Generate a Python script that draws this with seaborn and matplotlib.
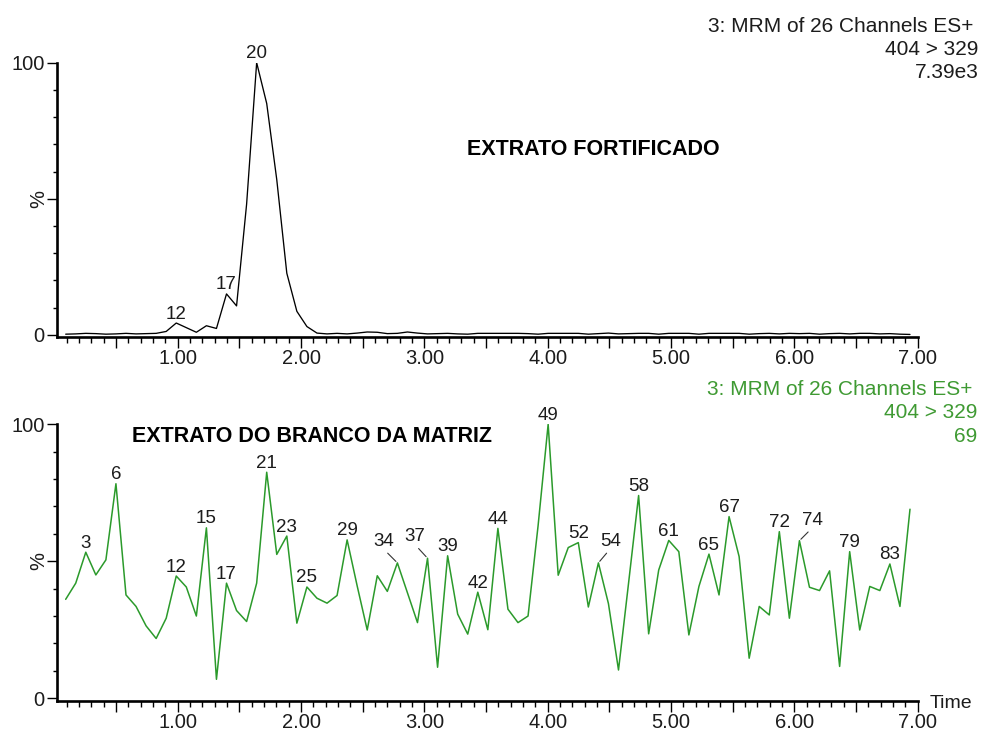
import numpy as np
import pandas as pd
import matplotlib
matplotlib.use("Agg")
import matplotlib.pyplot as plt
from matplotlib.ticker import FixedLocator, MultipleLocator, FuncFormatter
import seaborn as sns

# ---- acquisition: MRM channel 404 > 329, one point per scan ----
scans = np.arange(1, 86)
SCAN_T0 = 0.01      # min
SCAN_DT = 0.0815    # min per scan
retention_min = SCAN_T0 + SCAN_DT * scans

# fortified extract, % of max (7.39e3)
fortified_pct = [
    0.2, 0.3, 0.5, 0.4, 0.2, 0.3, 0.5, 0.3, 0.4, 0.5,
    1.2, 4.3, 2.6, 0.9, 3.3, 2.3, 15.0, 10.6, 48.0, 100.0,
    85.0, 57.0, 22.6, 8.6, 3.0, 0.6, 0.3, 0.5, 0.3, 0.6,
    1.0, 0.9, 0.4, 0.5, 1.0, 0.6, 0.3, 0.4, 0.5, 0.3,
    0.2, 0.5, 0.5, 0.5, 0.5, 0.5, 0.4, 0.2, 0.5, 0.5,
    0.5, 0.5, 0.2, 0.4, 0.6, 0.3, 0.4, 0.5, 0.5, 0.2,
    0.5, 0.5, 0.5, 0.2, 0.5, 0.5, 0.5, 0.5, 0.2, 0.4,
    0.5, 0.3, 0.5, 0.4, 0.5, 0.2, 0.4, 0.5, 0.3, 0.5,
    0.5, 0.3, 0.4, 0.2, 0.1,
]

# matrix blank extract, % of max (69)
blank_pct = [
    36.1, 42.0, 53.3, 45.0, 50.5, 78.3, 37.7, 33.5, 26.4, 21.8,
    29.2, 44.6, 40.6, 30.0, 62.2, 6.9, 42.0, 32.0, 28.0, 42.0,
    82.5, 52.5, 59.2, 27.4, 40.6, 36.5, 34.7, 37.5, 57.8, 41.0,
    24.9, 44.7, 39.0, 49.4, 38.5, 27.6, 51.1, 11.3, 52.0, 30.7,
    23.4, 38.7, 25.0, 62.0, 32.5, 27.6, 30.0, 63.0, 100.0, 44.9,
    55.0, 56.8, 33.3, 49.4, 34.5, 10.3, 42.0, 74.0, 23.5, 46.8,
    57.6, 53.5, 23.1, 40.8, 52.6, 37.7, 66.3, 51.7, 14.6, 33.5,
    30.4, 60.8, 29.2, 57.5, 40.5, 39.3, 46.5, 11.6, 53.5, 24.9,
    40.8, 39.3, 49.0, 33.5, 69.0,
]

fortified_peaks = [12, 17, 20]
blank_peaks = [3, 6, 12, 15, 17, 21, 23, 25, 29, 34, 37, 39, 42, 44, 49,
               52, 54, 58, 61, 65, 67, 72, 74, 79, 83]
# labels moved aside with a leader line: (dx, dy) in pixels
leader_offsets = {34: (-14, 17), 37: (-13, 17), 54: (12, 17), 74: (13, 16)}

header_lines = ["3: MRM of 26 Channels ES+", "404 > 329"]
fortified_scale = "7.39e3"
blank_scale = "69"

INK = "#1c1c1c"
GREEN = "#2b9a2b"
GREEN_TEXT = "#3f9a33"

sns.set_theme(style="ticks")
plt.rcParams["font.family"] = ["Liberation Sans", "DejaVu Sans"]
plt.rcParams["axes.edgecolor"] = "black"

W, H = 981, 731
fig = plt.figure(figsize=(W / 100, H / 100), dpi=100)


def fx(px):
    return px / W


def fy(py):
    return 1 - py / H


ax_top = fig.add_axes([fx(57.3), fy(337.3), fx(917.7) - fx(57.3), fy(62.7) - fy(337.3)])
ax_bot = fig.add_axes([fx(57.3), fy(700.8), fx(917.7) - fx(57.3), fy(424.3) - fy(700.8)])

df_top = pd.DataFrame({"time": retention_min, "pct": fortified_pct})
df_bot = pd.DataFrame({"time": retention_min, "pct": blank_pct})

sns.lineplot(data=df_top, x="time", y="pct", ax=ax_top, color="black", linewidth=0.95)
sns.lineplot(data=df_bot, x="time", y="pct", ax=ax_bot, color=GREEN, linewidth=1.1)


def style_axis(ax):
    ax.set_xlim(0.0235, 7.0)
    ax.set_ylim(-0.95, 100)
    ax.set_xlabel("")
    ax.set_ylabel("")
    for side in ("top", "right"):
        ax.spines[side].set_visible(False)
    for side in ("left", "bottom"):
        ax.spines[side].set_linewidth(1.9)
        ax.spines[side].set_color("black")
    ax.xaxis.set_major_locator(FixedLocator(np.arange(0.5, 7.01, 0.5)))
    ax.xaxis.set_major_formatter(
        FuncFormatter(lambda v, p: f"{v:.2f}" if abs(v - round(v)) < 1e-6 else ""))
    ax.xaxis.set_minor_locator(MultipleLocator(0.1))
    ax.yaxis.set_major_locator(FixedLocator([0, 50, 100]))
    ax.yaxis.set_major_formatter(
        FuncFormatter(lambda v, p: "" if abs(v - 50) < 1e-6 else f"{v:.0f}"))
    ax.yaxis.set_minor_locator(MultipleLocator(10))
    ax.tick_params(axis="x", which="major", length=8, width=1.0, pad=0.5,
                   labelsize=14.5, colors="black", labelcolor=INK)
    ax.tick_params(axis="x", which="minor", length=4.5, width=1.0, colors="black")
    ax.tick_params(axis="y", which="major", length=7.5, width=1.0, pad=1.5,
                   labelsize=14.5, colors="black", labelcolor=INK)
    ax.tick_params(axis="y", which="minor", length=3, width=1.0, colors="black")
    ax.annotate("%", xy=(0, 50), xycoords=("axes fraction", "data"),
                xytext=(-19, 0), textcoords="offset pixels", rotation=90,
                ha="center", va="center", fontsize=14.5, color=INK)
    ax.set_facecolor("white")


style_axis(ax_top)
style_axis(ax_bot)


def label_peaks(ax, peaks, values):
    for s in peaks:
        t = retention_min[s - 1]
        v = values[s - 1]
        if s in leader_offsets and ax is ax_bot:
            dx, dy = leader_offsets[s]
            ax.annotate(str(s), xy=(t, v), xytext=(dx, dy), textcoords="offset pixels",
                        ha="center", va="baseline", fontsize=13.5, color=INK,
                        arrowprops=dict(arrowstyle="-", color="#333333", lw=0.8,
                                        shrinkA=0, shrinkB=1.5,
                                        relpos=(0.55 if dx < 0 else 0.45, 0.0)))
        else:
            ax.annotate(str(s), xy=(t, v), xytext=(0, 4.5), textcoords="offset pixels",
                        ha="center", va="baseline", fontsize=13.5, color=INK)


label_peaks(ax_top, fortified_peaks, fortified_pct)
label_peaks(ax_bot, blank_peaks, blank_pct)

# channel headers
fig.text(fx(973), fy(31.7), header_lines[0], ha="right", va="baseline", fontsize=15, color=INK)
fig.text(fx(978.3), fy(55), header_lines[1], ha="right", va="baseline", fontsize=15, color=INK)
fig.text(fx(978.3), fy(78.3), fortified_scale, ha="right", va="baseline", fontsize=15, color=INK)

fig.text(fx(972), fy(395), header_lines[0], ha="right", va="baseline", fontsize=15, color=GREEN_TEXT)
fig.text(fx(977.7), fy(418), header_lines[1], ha="right", va="baseline", fontsize=15, color=GREEN_TEXT)
fig.text(fx(977.7), fy(442), blank_scale, ha="right", va="baseline", fontsize=15, color=GREEN_TEXT)

# sample titles
fig.text(fx(466.7), fy(155), "EXTRATO FORTIFICADO", ha="left", va="baseline",
         fontsize=15.5, fontweight="bold", color="black")
fig.text(fx(131.7), fy(441.7), "EXTRATO DO BRANCO DA MATRIZ", ha="left", va="baseline",
         fontsize=15.5, fontweight="bold", color="black")

fig.text(fx(929.3), fy(708.3), "Time", ha="left", va="baseline", fontsize=14, color=INK)

fig.savefig("out.png", dpi=100, facecolor="white")
